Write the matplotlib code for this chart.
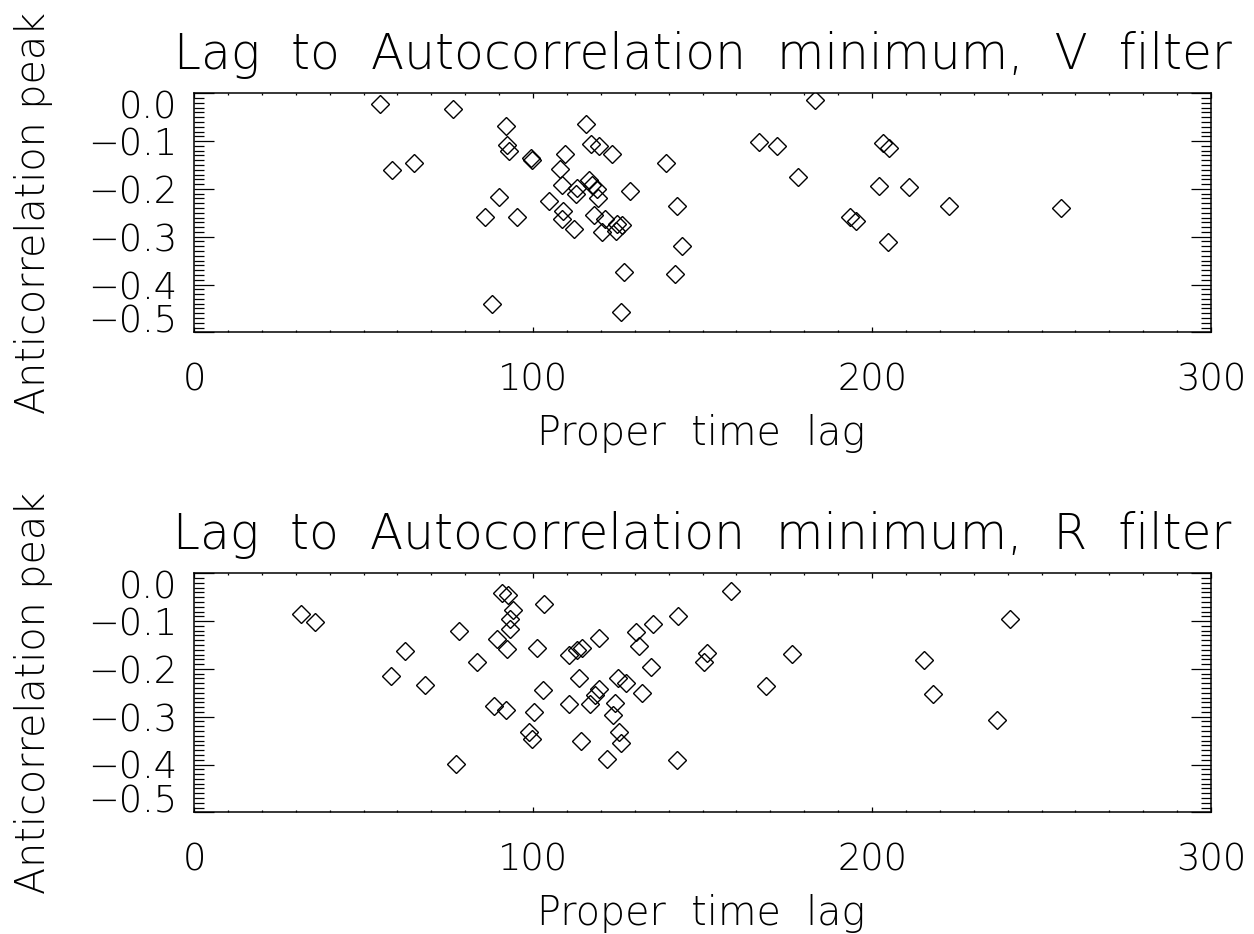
import numpy as np
import matplotlib
matplotlib.use('Agg')
import matplotlib.pyplot as plt
from matplotlib.ticker import MultipleLocator, FixedLocator
from matplotlib.transforms import ScaledTranslation

# V filter: proper time lag and anticorrelation peak
lag_v = [55.0, 76.3, 58.5, 65.0, 92.0, 92.2, 93.0, 99.3, 99.6, 115.6,
         117.1, 119.6, 123.3, 109.4, 108.0, 108.6, 112.9, 112.7, 116.6, 117.3,
         118.8, 119.3, 128.6, 90.1, 85.7, 95.4, 104.7, 108.8, 108.5, 112.1,
         118.1, 121.2, 120.5, 124.7, 126.2, 124.5, 126.9, 88.0, 125.9, 139.1,
         142.6, 144.1, 142.0, 166.7, 172.0, 183.1, 178.1, 203.2, 205.0, 202.2,
         210.9, 193.5, 195.4, 204.8, 222.7, 255.7]
peak_v = [-0.022, -0.033, -0.161, -0.146, -0.069, -0.108, -0.121, -0.135, -0.139, -0.065,
          -0.106, -0.111, -0.126, -0.126, -0.158, -0.191, -0.198, -0.210, -0.181, -0.191,
          -0.201, -0.219, -0.204, -0.217, -0.259, -0.259, -0.226, -0.247, -0.264, -0.283,
          -0.254, -0.262, -0.291, -0.274, -0.276, -0.288, -0.374, -0.441, -0.457, -0.146,
          -0.236, -0.319, -0.378, -0.101, -0.111, -0.014, -0.175, -0.104, -0.115, -0.193,
          -0.196, -0.258, -0.267, -0.311, -0.235, -0.240]

# R filter
lag_r = [31.5, 35.7, 58.0, 62.2, 68.1, 78.3, 77.3, 83.4, 90.8, 92.7,
         94.0, 93.3, 93.3, 89.3, 92.2, 103.3, 101.2, 88.5, 91.9, 100.3,
         102.9, 98.9, 99.6, 110.7, 112.9, 114.4, 113.7, 110.7, 114.1, 116.8,
         118.3, 119.6, 119.5, 121.7, 123.5, 124.2, 125.2, 127.4, 125.4, 125.9,
         130.4, 131.3, 132.3, 134.8, 135.5, 142.7, 142.5, 150.3, 151.3, 158.5,
         168.7, 176.4, 215.3, 218.1, 236.8, 240.7]
peak_r = [-0.085, -0.101, -0.215, -0.163, -0.233, -0.121, -0.399, -0.186, -0.041, -0.045,
          -0.076, -0.096, -0.116, -0.1375, -0.158, -0.065, -0.157, -0.277, -0.287, -0.290,
          -0.245, -0.333, -0.347, -0.170, -0.160, -0.156, -0.219, -0.274, -0.351, -0.274,
          -0.254, -0.243, -0.135, -0.388, -0.297, -0.271, -0.219, -0.229, -0.331, -0.354,
          -0.122, -0.153, -0.250, -0.195, -0.106, -0.089, -0.391, -0.186, -0.167, -0.038,
          -0.236, -0.169, -0.182, -0.252, -0.306, -0.096]

xticks = [0, 100, 200, 300]
xticklabels = ['0', '100', '200', '300']
yticks = [0.0, -0.1, -0.2, -0.3, -0.4, -0.5]
yticklabels = ['0.0', '\u22120.1', '\u22120.2', '\u22120.3', '\u22120.4', '\u22120.5']
# the plot's own font leaves wide gaps between words, hence the double spaces
titles = ['Lag  to  Autocorrelation  minimum,  V  filter',
          'Lag  to  Autocorrelation  minimum,  R  filter']
xlabel = 'Proper  time  lag'
ylabel = 'Anticorrelation peak'

plt.rcParams['font.family'] = ['DejaVu Sans']
plt.rcParams['font.weight'] = 200

W, H = 1254, 934
fig = plt.figure(figsize=(W / 100, H / 100), dpi=100)

panels = [(lag_v, peak_v), (lag_r, peak_r)]
for i, (xs, ys) in enumerate(panels):
    top = 93.3 + 480 * i  # pixel row of the panel's top edge
    ax = fig.add_axes([194 / W, 1 - (top + 239) / H, 1017 / W, 239 / H])
    ax.plot(xs, ys, linestyle='none', marker='D', markersize=9,
            markerfacecolor='none', markeredgecolor='black', markeredgewidth=1.0)

    ax.set_xlim(0, 300)
    ax.set_ylim(-0.5, 0.0)
    ax.xaxis.set_major_locator(FixedLocator(xticks))
    ax.xaxis.set_minor_locator(MultipleLocator(10))
    ax.yaxis.set_major_locator(FixedLocator(yticks))
    ax.yaxis.set_minor_locator(MultipleLocator(0.01))
    ax.set_xticklabels(xticklabels)
    ax.set_yticklabels(yticklabels)

    for s in ax.spines.values():
        s.set_linewidth(1.1)
    ax.tick_params(which='both', direction='in', top=True, right=True, width=0.9)
    ax.tick_params(axis='x', which='major', length=3.4, pad=21, labelsize=26.5)
    ax.tick_params(axis='x', which='minor', length=1.7)
    ax.tick_params(axis='y', which='major', length=14.4, pad=12, labelsize=26.5)
    ax.tick_params(axis='y', which='minor', length=7.2)

    # end labels on the y axis sit pulled inside the frame
    yt = ax.yaxis.get_major_ticks()
    yt[0].label1.set_transform(yt[0].label1.get_transform() +
                               ScaledTranslation(0, -0.11, fig.dpi_scale_trans))
    yt[-1].label1.set_transform(yt[-1].label1.get_transform() +
                                ScaledTranslation(0, 0.14, fig.dpi_scale_trans))

    fig.text(702.5 / W, 1 - (69 + 480 * i) / H, titles[i], fontsize=35,
             ha='center', va='baseline')
    fig.text(701 / W, 1 - (445 + 480 * i) / H, xlabel, fontsize=28.5,
             ha='center', va='baseline')
    fig.text(53 / W, 1 - (212.5 + 480 * i) / H, ylabel, fontsize=28.5,
             rotation=90, ha='right', va='center')

fig.savefig('out.png', dpi=100)
